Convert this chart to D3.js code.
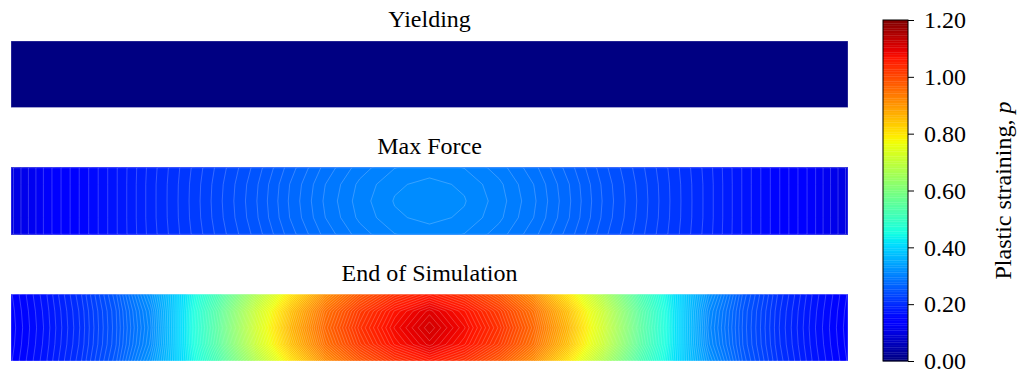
<!DOCTYPE html>
<html>
<head>
<meta charset="utf-8">
<script src="https://cdn.jsdelivr.net/npm/d3@7"></script>
<style>
  body { margin: 0; background: #fff; }
  text { font-family: 'Liberation Serif', 'Times New Roman', serif; }
</style>
</head>
<body>
<svg id="chart" width="1023" height="374"></svg>
<script>
// ---- data (values of plastic straining p) ----
const panelTitles = ["Yielding", "Max Force", "End of Simulation"];

// each panel: 25 samples along the bar, for the edge row, quarter row and centre line
const yieldingEdge    = [0,0,0,0,0,0,0,0,0,0,0,0,0,0,0,0,0,0,0,0,0,0,0,0,0];
const yieldingQuarter = [0,0,0,0,0,0,0,0,0,0,0,0,0,0,0,0,0,0,0,0,0,0,0,0,0];
const yieldingCenter  = [0,0,0,0,0,0,0,0,0,0,0,0,0,0,0,0,0,0,0,0,0,0,0,0,0];

const maxForceEdge    = [0.100,0.128,0.151,0.173,0.1945,0.213,0.231,0.248,0.267,0.284,0.297,0.3058,0.309,0.3058,0.297,0.284,0.267,0.248,0.231,0.213,0.1945,0.173,0.151,0.128,0.100];
const maxForceQuarter = [0.100,0.128,0.151,0.173,0.195,0.2138,0.2325,0.2503,0.2702,0.2878,0.3015,0.3109,0.3139,0.3109,0.3015,0.2878,0.2702,0.2503,0.2325,0.2138,0.195,0.173,0.151,0.128,0.100];
const maxForceCenter  = [0.100,0.128,0.151,0.173,0.195,0.214,0.233,0.251,0.271,0.289,0.303,0.3125,0.3155,0.3125,0.303,0.289,0.271,0.251,0.233,0.214,0.195,0.173,0.151,0.128,0.100];

const endEdge    = [0.143,0.173,0.209,0.256,0.326,0.418,0.530,0.670,0.800,0.910,0.980,1.030,1.060,1.030,0.980,0.910,0.800,0.670,0.530,0.418,0.326,0.256,0.209,0.173,0.143];
const endQuarter = [0.141,0.171,0.206,0.251,0.314,0.422,0.553,0.709,0.845,0.949,1.018,1.069,1.101,1.069,1.018,0.949,0.845,0.709,0.553,0.422,0.314,0.251,0.206,0.171,0.141];
const endCenter  = [0.140,0.170,0.205,0.250,0.310,0.423,0.560,0.721,0.860,0.961,1.030,1.081,1.115,1.081,1.030,0.961,0.860,0.721,0.560,0.423,0.310,0.250,0.205,0.170,0.140];

const colorTicks = [0, 0.2, 0.4, 0.6, 0.8, 1.0, 1.2];
const pMax = 1.2;
const levelCount = 200;

// ---- layout ----
const svg = d3.select("#chart");
const barLeft = 11, barRight = 848, barHeight = 66.5;
const panelTops = [41, 167.75, 294.5];
const cbLeft = 883, cbWidth = 25, cbTop = 20, cbBottom = 361;
const fontSize = 24;

// matplotlib "jet"
const jetR = d3.scaleLinear().domain([0, 0.35, 0.66, 0.89, 1]).range([0, 0, 1, 1, 0.5]).clamp(true);
const jetG = d3.scaleLinear().domain([0, 0.125, 0.375, 0.64, 0.91, 1]).range([0, 0, 1, 1, 0, 0]).clamp(true);
const jetB = d3.scaleLinear().domain([0, 0.11, 0.34, 0.65, 1]).range([0.5, 1, 1, 0, 0]).clamp(true);
const norm = d3.scaleLinear().domain([0, pMax]).range([0, 1]);
const jet = v => { const t = norm(v); return d3.rgb(jetR(t) * 255, jetG(t) * 255, jetB(t) * 255).toString(); };

const step = pMax / levelCount;
const levels = d3.range(levelCount).map(k => k * step);

const panels = [
  [yieldingEdge, yieldingQuarter, yieldingCenter],
  [maxForceEdge, maxForceQuarter, maxForceCenter],
  [endEdge, endQuarter, endCenter]
];

const defs = svg.append("defs");

panels.forEach((rows, i) => {
  const [edge, quarter, center] = rows;
  const grid = [edge, quarter, center, quarter, edge];
  const nx = edge.length, ny = grid.length;
  const values = [].concat(...grid);
  const top = panelTops[i];

  const xs = d3.scaleLinear().domain([0.5, nx - 0.5]).range([barLeft, barRight]);
  const ys = d3.scaleLinear().domain([0.5, ny - 0.5]).range([top, top + barHeight]);
  const path = d3.geoPath(d3.geoTransform({
    point: function (x, y) { this.stream.point(xs(x), ys(y)); }
  }));

  defs.append("clipPath").attr("id", "clip" + i)
    .append("rect")
    .attr("x", barLeft).attr("y", top)
    .attr("width", barRight - barLeft).attr("height", barHeight);

  const contours = d3.contours().size([nx, ny]).thresholds(levels)(values);

  const g = svg.append("g").attr("clip-path", "url(#clip" + i + ")");
  g.selectAll("path")
    .data(contours.filter(c => c.coordinates.length))
    .join("path")
    .attr("d", path)
    .attr("fill", d => jet(d.value + step / 2))
    .attr("stroke", "#ffffff")
    .attr("stroke-opacity", i === 0 ? 0 : 0.4)
    .attr("stroke-width", 0.55);

  // faint outline of each bar
  svg.append("rect")
    .attr("x", barLeft).attr("y", top)
    .attr("width", barRight - barLeft).attr("height", barHeight)
    .attr("fill", "none")
    .attr("stroke", "#ffffff").attr("stroke-opacity", 0.35).attr("stroke-width", 0.8);

  svg.append("text")
    .attr("x", (barLeft + barRight) / 2)
    .attr("y", top - 14)
    .attr("text-anchor", "middle")
    .attr("font-size", fontSize)
    .attr("fill", "#000")
    .text(panelTitles[i]);
});

// ---- colour bar ----
const cbScale = d3.scaleLinear().domain([0, pMax]).range([cbBottom, cbTop]);
const cb = svg.append("g");
cb.selectAll("rect.band")
  .data(levels)
  .join("rect")
  .attr("class", "band")
  .attr("x", cbLeft)
  .attr("width", cbWidth)
  .attr("y", d => cbScale(d + step))
  .attr("height", d => cbScale(d) - cbScale(d + step) + 0.3)
  .attr("fill", d => jet(d + step / 2));

cb.append("rect")
  .attr("x", cbLeft).attr("y", cbTop)
  .attr("width", cbWidth).attr("height", cbBottom - cbTop)
  .attr("fill", "none").attr("stroke", "#000").attr("stroke-width", 1);

const cbAxis = cb.append("g")
  .attr("transform", "translate(" + (cbLeft + cbWidth) + ",0)")
  .call(d3.axisRight(cbScale).tickValues(colorTicks).tickFormat(d3.format(".2f")).tickSize(6).tickPadding(10));
cbAxis.select(".domain").remove();
cbAxis.selectAll("text")
  .attr("font-family", "'Liberation Serif', 'Times New Roman', serif")
  .attr("font-size", fontSize)
  .attr("fill", "#000");
cbAxis.selectAll("line").attr("stroke", "#000").attr("stroke-width", 1);

const label = svg.append("text")
  .attr("transform", "translate(1011," + ((cbTop + cbBottom) / 2) + ") rotate(-90)")
  .attr("text-anchor", "middle")
  .attr("font-size", fontSize)
  .attr("fill", "#000");
label.append("tspan").text("Plastic straining, ");
label.append("tspan").attr("font-style", "italic").text("p");
</script>
</body>
</html>
